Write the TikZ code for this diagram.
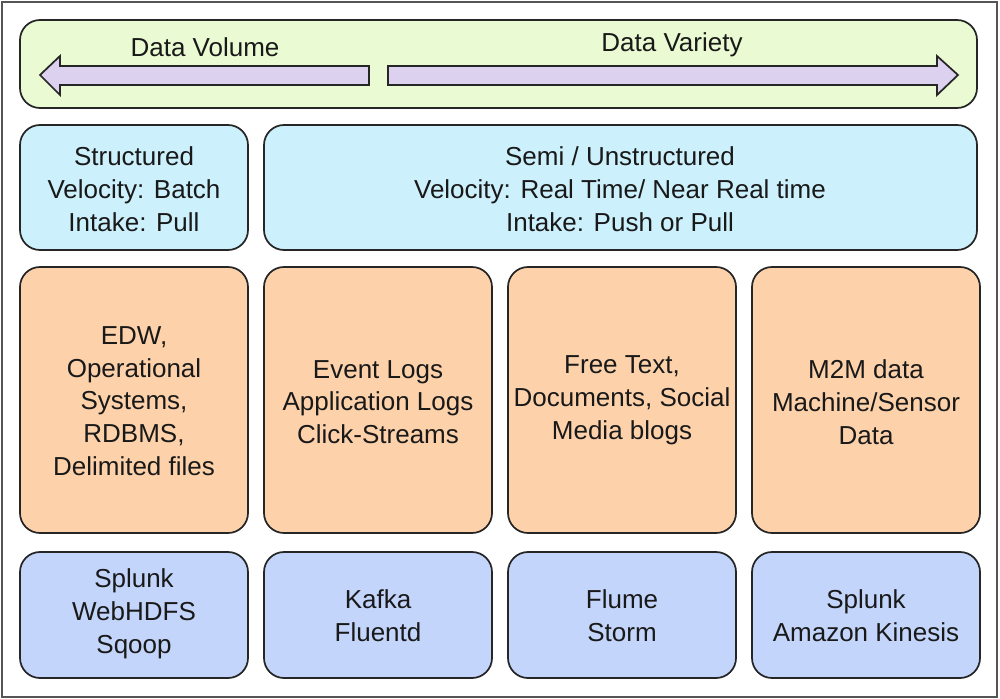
\documentclass[tikz,border=0pt]{standalone}
\usepackage{fontspec}
\setmainfont{Liberation Sans}
\definecolor{gbox}{HTML}{EAFAD2}
\definecolor{cbox}{HTML}{CCF0FC}
\definecolor{obox}{HTML}{FDD2AB}
\definecolor{bbox}{HTML}{C3D5FA}
\definecolor{parrow}{HTML}{DDD1F0}
\definecolor{frame}{HTML}{555555}
\begin{document}
\begin{tikzpicture}[x=0.75pt,y=-0.75pt,
  boxbase/.style={draw=black!85,line width=1.3pt,rounded corners=15pt},
  txt/.style={align=center,font=\fontsize{19.5}{24.6}\selectfont,text=black!90,inner sep=0pt},
  arrowshape/.style={draw=black!85,line width=1.3pt,fill=parrow,line join=miter}]
\useasboundingbox (0,0) rectangle (1000,699);
\draw[frame,line width=1.5pt] (2,2) rectangle (997,697);
% top band
\draw[boxbase,fill=gbox] (20,20) rectangle (977,108);
\draw[arrowshape] (40,75) -- (60,56) -- (60,66) -- (369,66) -- (369,85) -- (60,85) -- (60,95) -- cycle;
\draw[arrowshape] (958,75) -- (937,56) -- (937,66) -- (388,66) -- (388,85) -- (937,85) -- (937,95) -- cycle;
\node[txt] (vol) at (205,47) {Data Volume};
\node[txt] (var) at (672,45) {Data Variety};
% row 2
\draw[boxbase,fill=cbox] (20,125) rectangle (248,250);
\node[txt] (structured) at (134,189) {Structured\\Velocity: Batch\\Intake: Pull};
\draw[boxbase,fill=cbox] (264,125) rectangle (977,250);
\node[txt] (semi) at (620,189) {Semi / Unstructured\\Velocity: Real Time/ Near Real time\\Intake: Push or Pull};
% row 3
\draw[boxbase,fill=obox] (20,267) rectangle (248,533);
\node[txt] (edw) at (134,401) {EDW,\\Operational\\Systems,\\RDBMS,\\Delimited files};
\draw[boxbase,fill=obox] (264,267) rectangle (492,533);
\node[txt] (logs) at (378,402) {Event Logs\\Application Logs\\Click-Streams};
\draw[boxbase,fill=obox] (508,267) rectangle (736,533);
\node[txt] (free) at (622,400) {Free Text,\\Documents, Social\\Media blogs};
\draw[boxbase,fill=obox] (752,267) rectangle (980,533);
\node[txt] (m2m) at (866,402) {M2M data\\Machine/Sensor\\Data};
% row 4
\draw[boxbase,fill=bbox] (20,552) rectangle (248,678);
\node[txt] (t1) at (134,614) {Splunk\\WebHDFS\\Sqoop};
\draw[boxbase,fill=bbox] (264,552) rectangle (492,678);
\node[txt] (t2) at (378,616) {Kafka\\Fluentd};
\draw[boxbase,fill=bbox] (508,552) rectangle (736,678);
\node[txt] (t3) at (622,616) {Flume\\Storm};
\draw[boxbase,fill=bbox] (752,552) rectangle (980,678);
\node[txt] (t4) at (866,616) {Splunk\\Amazon Kinesis};
\end{tikzpicture}
\end{document}
